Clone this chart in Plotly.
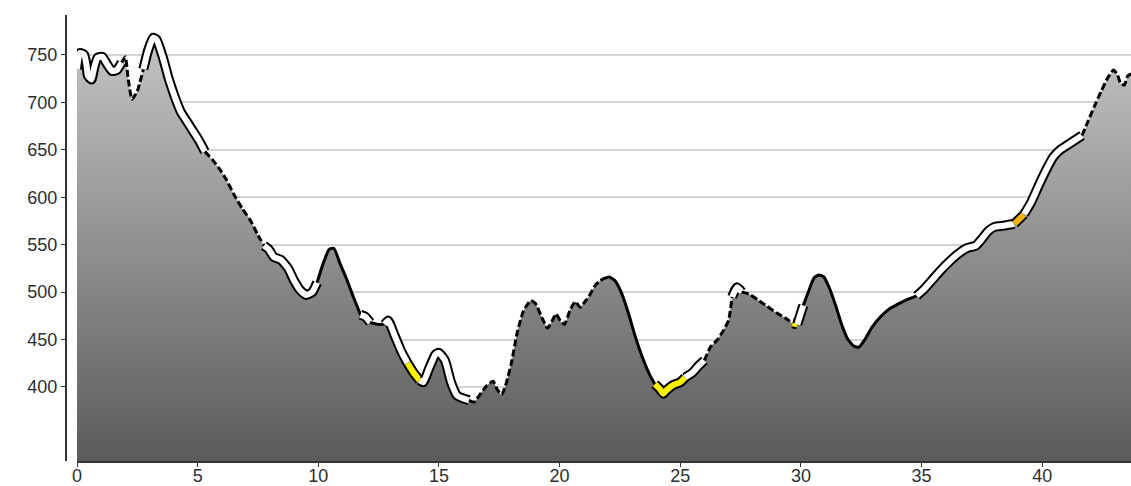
import plotly.graph_objects as go

# ---- data (distance in km, elevation in m) ----
dist_km = [
    0.00, 0.12, 0.30, 0.40, 0.45, 0.60, 0.70, 0.85, 1.05, 1.25, 1.45, 1.65, 1.85,
    2.00, 2.12, 2.28, 2.50, 2.75,
    2.95, 3.15, 3.30, 3.55, 3.80, 4.05, 4.30, 4.55, 4.80, 5.05, 5.30,
    5.60, 5.90, 6.20, 6.50, 6.85, 7.20, 7.50, 7.75,
    7.95, 8.15, 8.45, 8.75, 9.00, 9.25, 9.50, 9.75, 9.95,
    10.20, 10.45, 10.65, 10.90, 11.20, 11.45, 11.75,
    11.95, 12.15,
    12.45, 12.75,
    12.90, 13.15, 13.45, 13.70,
    13.95, 14.20,
    14.35, 14.60, 14.85, 15.00, 15.25, 15.50, 15.75, 16.00, 16.25,
    16.45, 16.70, 17.00, 17.25, 17.40, 17.60, 17.80, 18.00, 18.25, 18.50, 18.80,
    19.00, 19.25, 19.50, 19.70, 19.85, 20.05, 20.20, 20.45, 20.65, 20.85, 21.05,
    21.25, 21.50, 21.80,
    22.05, 22.30, 22.55, 22.85, 23.15, 23.45, 23.75, 23.95,
    24.15, 24.30, 24.45, 24.70, 25.00, 25.20,
    25.50, 25.75, 26.00,
    26.25, 26.55, 26.80, 27.00, 27.15,
    27.35, 27.55,
    27.85, 28.20, 28.60, 29.00, 29.40, 29.65,
    29.85,
    30.00, 30.10,
    30.35, 30.55, 30.75, 30.95, 31.20, 31.45, 31.70, 31.95, 32.20, 32.40, 32.65,
    32.95, 33.30, 33.65, 34.00, 34.40, 34.80,
    35.10, 35.45, 35.80, 36.15, 36.50, 36.85, 37.25, 37.50, 37.75, 38.05, 38.40, 38.85,
    39.25,
    39.55, 39.85, 40.15, 40.45, 40.75, 41.05, 41.35, 41.65,
    41.90, 42.15, 42.45, 42.70, 42.95, 43.10, 43.25, 43.40, 43.55, 43.70,
]
elev_m = [
    735, 752, 750, 738, 728, 724, 735, 747, 748, 740, 733, 734, 742,
    748, 725, 703, 712, 735,
    755, 768, 766, 748, 725, 706, 690, 680, 670, 660, 648,
    640, 630, 618, 603, 588, 575, 560, 549,
    545, 537, 534, 525, 512, 502, 497, 500, 510,
    530, 545, 546, 530, 512, 495, 476,
    474, 468,
    466, 466,
    470, 455, 437, 425,
    415, 407,
    405, 420, 434, 436, 428, 405, 391, 388, 386,
    384, 392, 402, 406, 398, 392, 405, 425, 458, 480, 491,
    488, 474, 462, 470, 477, 469, 466, 482, 490, 484, 490,
    497, 508, 514,
    516, 512, 500, 478, 452, 430, 412, 403,
    398, 393, 397, 402, 405, 410,
    415, 422, 428,
    442, 450, 460, 470, 495,
    505, 500,
    498, 492, 485, 478, 472, 467,
    466,
    478, 486,
    503, 515, 518, 516, 503, 485, 465, 450, 443, 442, 450,
    463, 474, 482, 487, 492, 496,
    503, 513, 523, 532, 540, 546, 549, 556, 564, 569, 570, 572,
    582,
    595, 612, 628, 642, 650, 655, 660, 665,
    680, 695, 712, 725, 734, 730, 720, 718, 728, 730,
]

# line style by stretch: each style starts at the given km
# C = white cased, S = solid black, D = dashed black, Y = yellow cased, O = orange cased
style_start_km = [0, 1.85, 2.75, 5.30, 7.75, 9.95, 11.75, 12.15, 12.75, 13.70, 14.20,
                  16.25, 21.80, 23.95, 25.20, 26.00, 27.15, 27.55, 29.65, 29.85,
                  30.10, 34.80, 38.85, 39.25, 41.65]
style_name = ["C", "D", "C", "D", "C", "S", "C", "S", "C", "Y", "C",
              "D", "S", "Y", "C", "D", "C", "D", "Y", "C",
              "S", "C", "O", "C", "D"]

x_ticks = [0, 5, 10, 15, 20, 25, 30, 35, 40]
y_ticks = [400, 450, 500, 550, 600, 650, 700, 750]


def style_at(km):
    s = style_name[0]
    for k, name in zip(style_start_km, style_name):
        if km >= k - 1e-9:
            s = name
    return s


# ---- figure ----
fig = go.Figure()

fig.add_trace(go.Scatter(
    x=dist_km, y=elev_m, mode="lines", line=dict(width=0, shape="spline", smoothing=0.5),
    fill="tozeroy",
    fillgradient=dict(type="vertical", start=322, stop=770,
                      colorscale=[[0, "#5b5b5b"], [1, "#c4c4c4"]]),
    hoverinfo="skip", showlegend=False,
))

# group consecutive segments with the same style
seg_styles = [style_at(d) for d in dist_km[:-1]]
groups = []
i = 0
n = len(seg_styles)
while i < n:
    s = seg_styles[i]
    j = i
    while j < n and seg_styles[j] == s:
        j += 1
    groups.append((s, i, j))
    i = j

inner_colors = {"C": "#ffffff", "Y": "#fff200", "O": "#f2b10e"}
for s, a, b in groups:
    xs = dist_km[a:b + 1]
    ys = elev_m[a:b + 1]
    if s in inner_colors:
        fig.add_trace(go.Scatter(x=xs, y=ys, mode="lines",
                                 line=dict(color="#000000", width=10, shape="spline", smoothing=0.5),
                                 hoverinfo="skip", showlegend=False))
        fig.add_trace(go.Scatter(x=xs, y=ys, mode="lines",
                                 line=dict(color=inner_colors[s], width=6, shape="spline", smoothing=0.5),
                                 hoverinfo="skip", showlegend=False))
    elif s == "S":
        fig.add_trace(go.Scatter(x=xs, y=ys, mode="lines",
                                 line=dict(color="#000000", width=3, shape="spline", smoothing=0.5),
                                 hoverinfo="skip", showlegend=False))
    else:
        fig.add_trace(go.Scatter(x=xs, y=ys, mode="lines",
                                 line=dict(color="#000000", width=3, dash="7px,3px",
                                           shape="spline", smoothing=0.5),
                                 hoverinfo="skip", showlegend=False))

tick_font = dict(family="Liberation Sans, Arial, sans-serif", size=18, color="#2e2e2e")

fig.update_layout(
    width=1131, height=486,
    margin=dict(l=66, r=0, t=15, b=25, autoexpand=False),
    paper_bgcolor="#ffffff", plot_bgcolor="#ffffff",
    showlegend=False,
    xaxis=dict(
        domain=[11 / 1065, 1], range=[0, 43.68], automargin=False,
        tickvals=x_ticks, ticktext=[str(v) for v in x_ticks],
        showgrid=False, zeroline=False,
        showline=True, linecolor="#333333", linewidth=2,
        ticks="outside", ticklen=4, tickwidth=1, tickcolor="#333333",
        ticklabelstandoff=-7,
        tickfont=tick_font,
    ),
    yaxis=dict(
        anchor="free", position=0, range=[322, 792], automargin=False,
        tickvals=y_ticks, ticktext=[str(v) for v in y_ticks],
        showgrid=True, gridcolor="#d4d4d4", gridwidth=2,
        zeroline=False,
        showline=True, linecolor="#333333", linewidth=2,
        ticks="outside", ticklen=4, tickwidth=1, tickcolor="#333333",
        tickfont=tick_font,
    ),
)

fig.write_html(
    "out.html",
    config={"displayModeBar": False},
    post_script="document.body.style.margin='0px';document.body.style.overflow='hidden';",
)
